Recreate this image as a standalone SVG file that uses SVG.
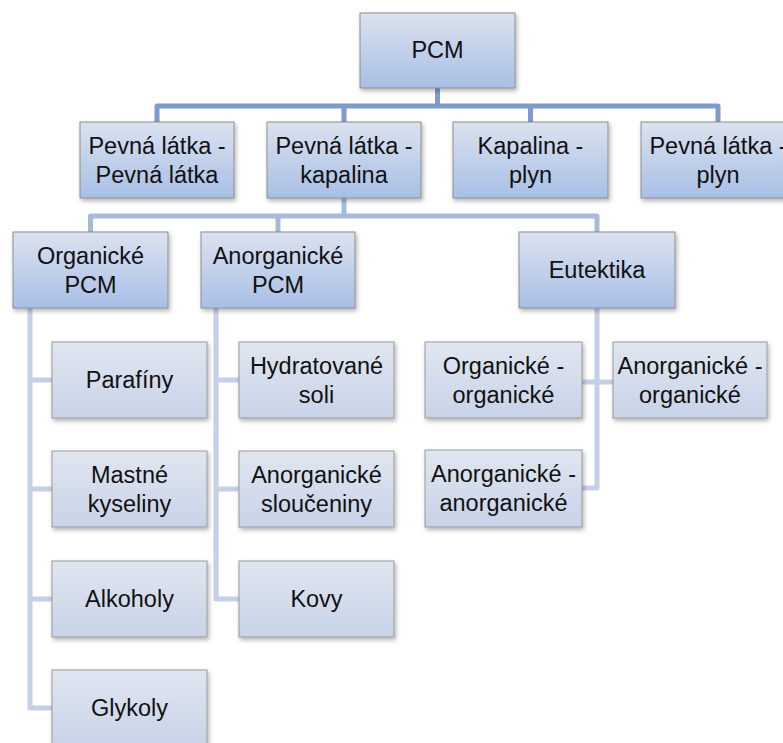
<svg xmlns="http://www.w3.org/2000/svg" width="783" height="743" viewBox="0 0 783 743">
<defs>
<linearGradient id="gA" x1="0" y1="0" x2="0" y2="1"><stop offset="0" stop-color="#dbe2ef"/><stop offset="1" stop-color="#a8bfe6"/></linearGradient>
<linearGradient id="gB" x1="0" y1="0" x2="0" y2="1"><stop offset="0" stop-color="#e0e6f0"/><stop offset="1" stop-color="#c8d3e8"/></linearGradient>
<filter id="sh" x="-10%" y="-10%" width="125%" height="130%"><feDropShadow dx="1.5" dy="2.5" stdDeviation="2" flood-color="#000" flood-opacity="0.3"/></filter>
</defs>
<style>
.a{fill:url(#gA);stroke:#8e8e8e;stroke-width:1;filter:url(#sh)}
.b{fill:url(#gB);stroke:#999;stroke-width:1;filter:url(#sh)}
text{font-family:"Liberation Sans",Arial,sans-serif;font-size:23.5px;fill:#111;text-anchor:middle}
.c1{fill:none;stroke:#7e9bca;stroke-width:5;stroke-linejoin:round}
.c2{fill:none;stroke:#a6badc;stroke-width:5;stroke-linejoin:round}
.c3{fill:none;stroke:#c4d0e6;stroke-width:5;stroke-linejoin:round}
</style>
<rect width="783" height="743" fill="#fff"/>
<g id="connectors">
<path class="c1" d="M437.5 88V106M157 122V106H718V122M344 106V122M530.5 106V122"/>
<path class="c2" d="M344 198V216M90.5 232V216H597V232M278 216V232"/>
<path class="c3" d="M30 308V708H52M30 380H52M30 489H52M30 599H52"/>
<path class="c3" d="M216 308V599H239M216 380H239M216 489H239"/>
<path class="c3" d="M597 308V488H582M582 382H613"/>
</g>
<g id="n-pcm"><rect class="a" x="360" y="13" width="155" height="75"/><text x="437.5" y="58">PCM</text></g>
<g id="n-pp"><rect class="a" x="80" y="122" width="154" height="76"/><text x="157" y="154">Pevná látka -</text><text x="157" y="183">Pevná látka</text></g>
<g id="n-pk"><rect class="a" x="267" y="122" width="154" height="76"/><text x="344" y="154">Pevná látka -</text><text x="344" y="183">kapalina</text></g>
<g id="n-kp"><rect class="a" x="453" y="122" width="155" height="76"/><text x="530.5" y="154">Kapalina -</text><text x="530.5" y="183">plyn</text></g>
<g id="n-ppl"><rect class="a" x="641" y="122" width="155" height="76"/><text x="718" y="154">Pevná látka -</text><text x="718" y="183">plyn</text></g>
<g id="n-org"><rect class="a" x="13" y="232" width="155" height="76"/><text x="90.5" y="264">Organické</text><text x="90.5" y="293">PCM</text></g>
<g id="n-anorg"><rect class="a" x="201" y="232" width="154" height="76"/><text x="278" y="264">Anorganické</text><text x="278" y="293">PCM</text></g>
<g id="n-eut"><rect class="a" x="519" y="232" width="156" height="76"/><text x="597" y="278">Eutektika</text></g>
<g id="n-paraf"><rect class="b" x="52" y="342" width="155" height="76"/><text x="129.5" y="388">Parafíny</text></g>
<g id="n-mast"><rect class="b" x="52" y="451" width="155" height="76"/><text x="129.5" y="483">Mastné</text><text x="129.5" y="512">kyseliny</text></g>
<g id="n-alk"><rect class="b" x="52" y="561" width="155" height="76"/><text x="129.5" y="607">Alkoholy</text></g>
<g id="n-glyk"><rect class="b" x="52" y="670" width="155" height="76"/><text x="129.5" y="716">Glykoly</text></g>
<g id="n-hydr"><rect class="b" x="239" y="342" width="155" height="76"/><text x="316.5" y="374">Hydratované</text><text x="316.5" y="403">soli</text></g>
<g id="n-slouc"><rect class="b" x="239" y="451" width="155" height="76"/><text x="316.5" y="483">Anorganické</text><text x="316.5" y="512">sloučeniny</text></g>
<g id="n-kovy"><rect class="b" x="239" y="561" width="155" height="76"/><text x="316.5" y="607">Kovy</text></g>
<g id="n-oo"><rect class="b" x="425" y="342" width="157" height="76"/><text x="503.5" y="374">Organické -</text><text x="503.5" y="403">organické</text></g>
<g id="n-ao"><rect class="b" x="613" y="342" width="154" height="76"/><text x="690" y="374">Anorganické -</text><text x="690" y="403">organické</text></g>
<g id="n-aa"><rect class="b" x="425" y="450" width="157" height="77"/><text x="503.5" y="482">Anorganické -</text><text x="503.5" y="511">anorganické</text></g>
</svg>
